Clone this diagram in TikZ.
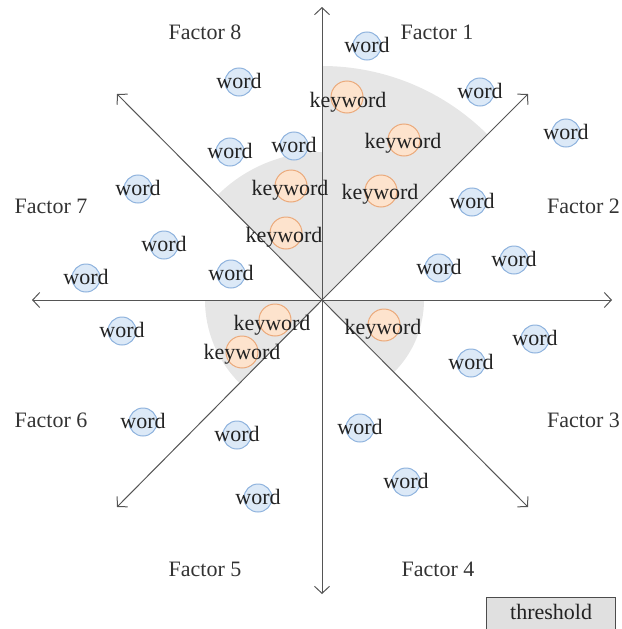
\documentclass[tikz,border=0pt]{standalone}
\usepackage{fontspec}
\setmainfont{Liberation Serif}
\usetikzlibrary{arrows.meta}
\definecolor{axiscol}{HTML}{555555}
\definecolor{sectorcol}{HTML}{E6E6E6}
\definecolor{wfill}{HTML}{DCE9F7}
\definecolor{wdraw}{HTML}{8FB3DE}
\definecolor{kfill}{HTML}{FDE3CD}
\definecolor{kdraw}{HTML}{EBA97A}
\definecolor{txtcol}{HTML}{222222}
\tikzset{
  big/.style={font=\fontsize{22}{26}\selectfont, text=txtcol},
  axis/.style={draw=axiscol, line width=1pt, -{Straight Barb[length=7pt,width=15pt,line width=1pt]}},
  sector/.style={fill=sectorcol},
  wcirc/.style={circle, draw=wdraw, fill=wfill, line width=1pt, minimum size=28pt, inner sep=0pt},
  kcirc/.style={circle, draw=kdraw, fill=kfill, line width=1pt, minimum size=32pt, inner sep=0pt},
  wtxt/.style={big, inner sep=0pt, anchor=base},
  factor/.style={big, text=black!80, inner sep=0pt, anchor=base},
  thrbox/.style={big, draw=black!70, fill=black!12, line width=1.2pt, minimum width=129pt, minimum height=33pt, inner sep=0pt, anchor=north west, text height=10pt, text depth=0pt}
}
\begin{document}
\begin{tikzpicture}[x=1pt,y=1pt]
\useasboundingbox (0,0) rectangle (621,-629);
\clip (0,0) rectangle (621,-629);
\coordinate (O) at (322,-300);
% shaded threshold sectors
\fill[sector] (O) -- ++(45:234) arc[start angle=45, end angle=90, radius=234] -- cycle;
\fill[sector] (O) -- ++(90:148) arc[start angle=90, end angle=135, radius=148] -- cycle;
\fill[sector] (O) -- ++(180:117) arc[start angle=180, end angle=225, radius=117] -- cycle;
\fill[sector] (O) -- ++(315:102) arc[start angle=315, end angle=360, radius=102] -- cycle;
% axis end points
\coordinate (tU) at (322,-7);
\coordinate (tD) at (322,-594);
\coordinate (tL) at (32,-300);
\coordinate (tR) at (612,-300);
\coordinate (tNE) at (528,-94);
\coordinate (tNW) at (117,-94);
\coordinate (tSW) at (117,-507);
\coordinate (tSE) at (528,-507);
\foreach \t in {tU,tD,tL,tR,tNE,tNW,tSW,tSE} \draw[axis] (O) -- (\t);
% word circles
\foreach \n/\x/\y in {1/367/46, 2/239/82, 3/480/92, 4/566/133, 5/294/146, 6/230/152, 7/138/189,
  8/472/202, 9/164/245, 10/514/260, 11/439/268, 12/86/278, 13/231/274, 14/122/331, 15/535/339,
  16/471/363, 17/143/422, 18/237/435, 19/360/428, 20/406/482, 21/258/498}
  \node[wcirc] (wc\n) at (\x,-\y) {};
% keyword circles
\foreach \n/\x/\y in {1/347/97, 2/404/140, 3/291/186, 4/381/191, 5/286/233, 6/275/320, 7/242/352, 8/384/325}
  \node[kcirc] (kc\n) at (\x,-\y) {};
% keyword texts (baseline positions)
\foreach \n/\x/\y in {1/348/107, 2/403/148, 3/290/195, 4/380/199, 5/284/242, 6/272/330, 7/242/359, 8/383/334}
  \node[wtxt] (kt\n) at (\x,-\y) {keyword};
% word texts
\foreach \n in {1,...,21}
  \node[wtxt] (wt\n) at ([yshift=-6.5pt]wc\n.center) {word};
% factor labels
\node[factor] (f8) at (205,-39) {Factor 8};
\node[factor] (f1) at (437,-39) {Factor 1};
\node[factor] (f7) at (51,-213) {Factor 7};
\node[factor, anchor=base west] (f2) at (547,-213) {Factor 2};
\node[factor] (f6) at (51,-427) {Factor 6};
\node[factor, anchor=base west] (f3) at (547,-427) {Factor 3};
\node[factor] (f5) at (205,-576) {Factor 5};
\node[factor] (f4) at (438,-576) {Factor 4};
% legend
\node[thrbox] (thr) at (486,-597) {threshold};
\end{tikzpicture}
\end{document}
